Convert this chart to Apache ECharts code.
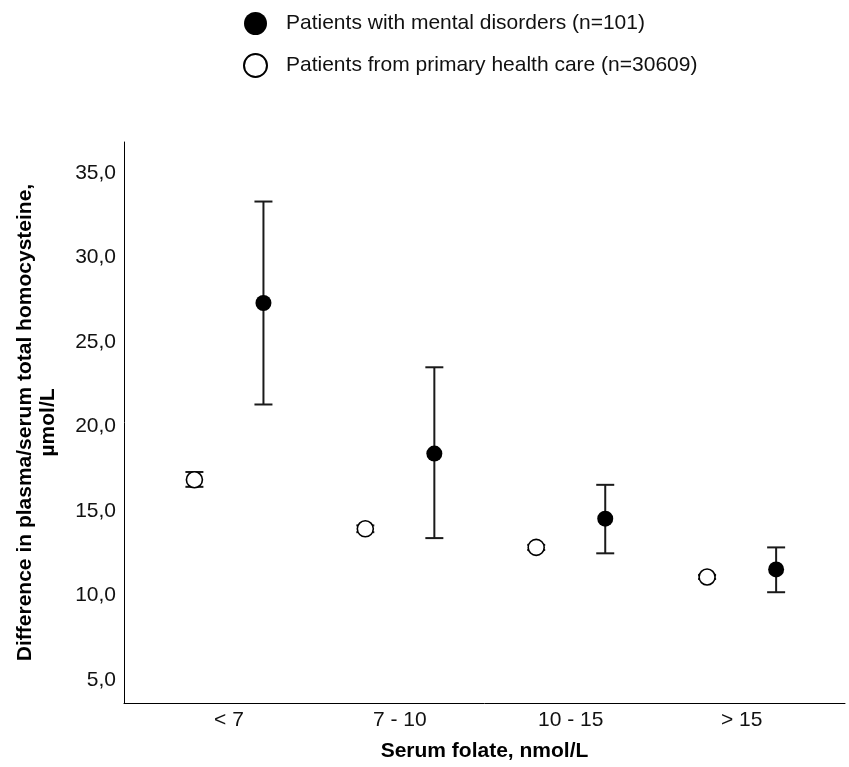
<!DOCTYPE html>
<html>
<head>
<meta charset="utf-8">
<script src="https://cdn.jsdelivr.net/npm/echarts@6/dist/echarts.min.js"></script>
<style>html,body{margin:0;padding:0;background:#fff}#c{width:849px;height:767px}</style>
</head>
<body>
<div id="c"></div>
<script>
const categories = ['< 7', '7 - 10', '10 - 15', '> 15'];
const mentalMean = [27.3, 18.4, 14.55, 11.55];
const mentalLow = [21.3, 13.4, 12.5, 10.2];
const mentalHigh = [33.3, 23.5, 16.55, 12.85];
const primaryMean = [16.85, 13.95, 12.85, 11.1];
const primaryLow = [16.43, 13.75, 12.7, 10.98];
const primaryHigh = [17.31, 14.15, 13.0, 11.22];
const yTicks = [5, 10, 15, 20, 25, 30, 35];
const catPos = [1, 2, 3, 4];

const OFF = 0.202;
const FONT = '"Liberation Sans", Arial, Helvetica, sans-serif';

const mentalPts = catPos.map((p, i) => [p + OFF, mentalMean[i]]);
const primaryPts = catPos.map((p, i) => [p - OFF, primaryMean[i]]);
const mentalErr = catPos.map((p, i) => [p + OFF, mentalLow[i], mentalHigh[i]]);
const primaryErr = catPos.map((p, i) => [p - OFF, primaryLow[i], primaryHigh[i]]);

function errItem(params, api) {
  const x = api.value(0);
  const lo = api.coord([x, api.value(1)]);
  const hi = api.coord([x, api.value(2)]);
  const hw = 9;
  const st = { stroke: '#1a1a1a', lineWidth: 2 };
  return {
    type: 'group',
    children: [
      { type: 'line', shape: { x1: lo[0], y1: lo[1], x2: hi[0], y2: hi[1] }, style: st },
      { type: 'line', shape: { x1: lo[0] - hw, y1: lo[1], x2: lo[0] + hw, y2: lo[1] }, style: st },
      { type: 'line', shape: { x1: hi[0] - hw, y1: hi[1], x2: hi[0] + hw, y2: hi[1] }, style: st }
    ]
  };
}

const chart = echarts.init(document.getElementById('c'), null, { renderer: 'canvas' });
chart.setOption({
  animation: false,
  backgroundColor: '#fff',
  textStyle: { fontFamily: FONT },
  grid: { left: 124, right: 4, top: 142, bottom: 59 },
  legend: {
    orient: 'vertical',
    left: 238,
    top: 7,
    itemWidth: 23,
    itemHeight: 23,
    itemGap: 18,
    data: ['Patients with mental disorders (n=101)', 'Patients from primary health care (n=30609)'],
    textStyle: { fontSize: 21, color: '#111', fontFamily: FONT, padding: [0, 0, 0, 14], lineHeight: 23 }
  },
  xAxis: {
    type: 'value',
    min: 0.386,
    max: 4.605,
    splitLine: { show: false },
    axisTick: { show: false },
    axisLine: { show: true, lineStyle: { color: '#000', width: 1 } },
    axisLabel: {
      customValues: catPos,
      formatter: v => categories[Math.round(v) - 1] || '',
      fontSize: 21, color: '#111', margin: 7, fontFamily: FONT
    },
    name: 'Serum folate, nmol/L',
    nameLocation: 'middle',
    nameGap: 38,
    nameTextStyle: { fontSize: 21, fontWeight: 'bold', color: '#000', fontFamily: FONT }
  },
  yAxis: {
    type: 'value',
    min: 3.65,
    max: 36.82,
    splitLine: { show: false },
    axisTick: { show: false },
    axisLine: { show: true, lineStyle: { color: '#000', width: 1 } },
    axisLabel: {
      customValues: yTicks,
      formatter: v => v.toFixed(1).replace('.', ','),
      fontSize: 21, color: '#111', margin: 8, fontFamily: FONT
    },
    name: 'Difference in plasma/serum total homocysteine,\nµmol/L',
    nameLocation: 'middle',
    nameGap: 64,
    nameTextStyle: { fontSize: 21, fontWeight: 'bold', color: '#000', lineHeight: 23, fontFamily: FONT, align: 'center' }
  },
  series: [
    {
      type: 'custom', name: 'errM', renderItem: errItem, data: mentalErr, z: 1,
      encode: { x: 0, y: [1, 2] }, silent: true
    },
    {
      type: 'custom', name: 'errP', renderItem: errItem, data: primaryErr, z: 1,
      encode: { x: 0, y: [1, 2] }, silent: true
    },
    {
      type: 'scatter', name: 'Patients with mental disorders (n=101)', data: mentalPts,
      symbol: 'circle', symbolSize: 16, z: 5,
      itemStyle: { color: '#000', opacity: 1 }
    },
    {
      type: 'scatter', name: 'Patients from primary health care (n=30609)', data: primaryPts,
      symbol: 'circle', symbolSize: 16, z: 5,
      itemStyle: { color: '#fff', borderColor: '#000', borderWidth: 1.6, opacity: 1 }
    }
  ]
});
</script>
</body>
</html>
